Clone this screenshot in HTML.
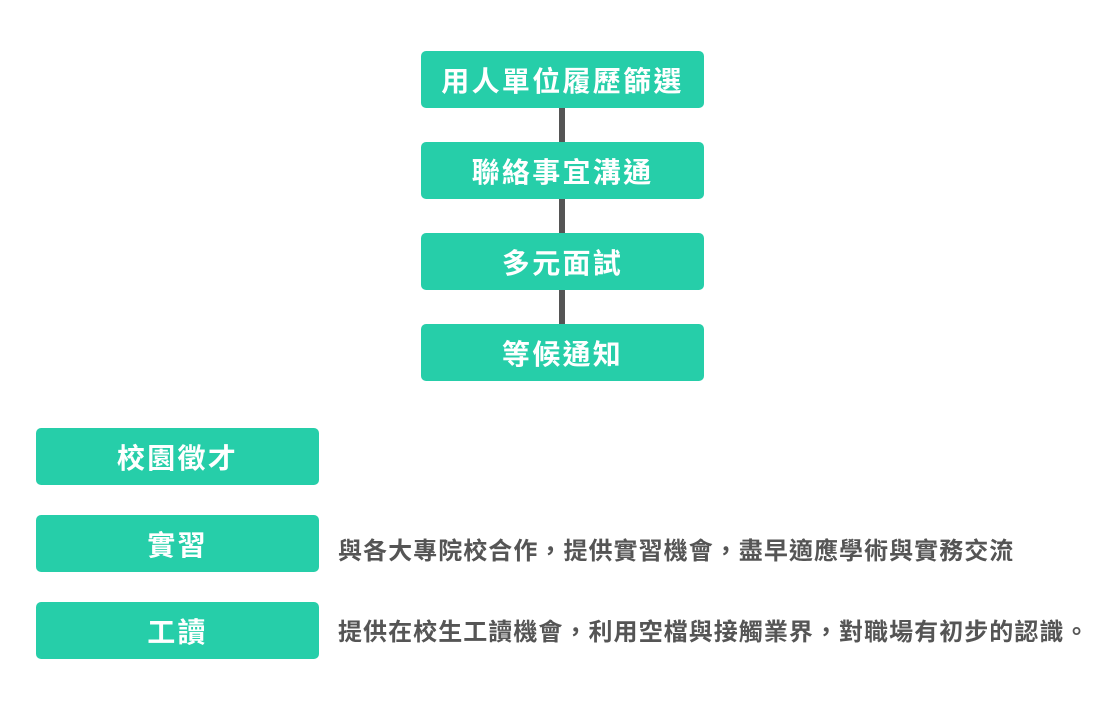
<!DOCTYPE html>
<html><head><meta charset="utf-8"><style>
body{margin:0;width:1117px;height:726px;background:#fff;position:relative;overflow:hidden;font-family:"Liberation Sans","Noto Sans CJK TC",sans-serif;}
.b{position:absolute;background:#26cea9;border-radius:5px;color:#fff;font-weight:bold;font-size:28px;letter-spacing:2.3px;display:flex;align-items:center;justify-content:center;height:57px;width:283px;}
.l{position:absolute;left:559px;width:6px;background:#555;}
.t{position:absolute;left:338px;font-size:24px;font-weight:bold;color:#555;letter-spacing:1.05px;white-space:nowrap;line-height:30px;}
</style></head><body>
<div class="l" style="top:108px;height:34px"></div>
<div class="l" style="top:199px;height:34px"></div>
<div class="l" style="top:290px;height:34px"></div>
<div class="b" style="left:421px;top:51px">用人單位履歷篩選</div>
<div class="b" style="left:421px;top:142px">聯絡事宜溝通</div>
<div class="b" style="left:421px;top:233px">多元面試</div>
<div class="b" style="left:421px;top:324px">等候通知</div>
<div class="b" style="left:36px;top:428px">校園徵才</div>
<div class="b" style="left:36px;top:515px">實習</div>
<div class="b" style="left:36px;top:602px">工讀</div>
<div class="t" style="top:537px">與各大專院校合作，提供實習機會，盡早適應學術與實務交流</div>
<div class="t" style="top:618px">提供在校生工讀機會，利用空檔與接觸業界，對職場有初步的認識。</div>
</body></html>
